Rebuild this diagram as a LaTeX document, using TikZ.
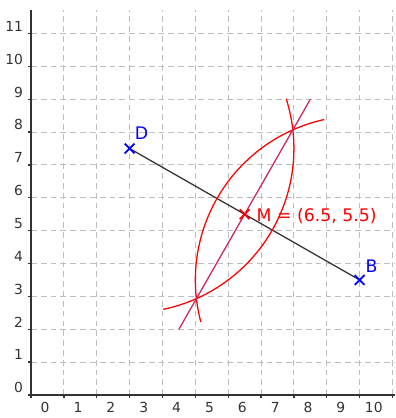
\documentclass[tikz,border=0pt]{standalone}
\usepackage{fontspec}
\setmainfont{DejaVu Sans}
\definecolor{bisect}{RGB}{204,40,100}
\definecolor{gridgray}{RGB}{190,190,190}
\tikzset{
  gridline/.style={gridgray, line width=0.9pt, dash pattern=on 5pt off 3.5pt},
  axisline/.style={black!80, line width=1.1pt},
  cross/.style={line width=1.6pt},
  arcline/.style={red, line width=1.1pt},
  ticklabel/.style={font=\fontsize{12}{14}\selectfont, black!80},
  ptlabel/.style={font=\fontsize{15}{17}\selectfont}
}
\begin{document}
\begin{tikzpicture}[x=1cm, y=1cm]
  \useasboundingbox (-0.944,-0.70) rectangle (11.08,12.02);
  % dashed grid
  \foreach \x in {1,...,11}
    \draw[gridline] (\x,0) -- (\x,11.72);
  \foreach \y in {1,...,11}
    \draw[gridline] (0,\y) -- (11.08,\y);
  % axes with ticks and numbers
  \draw[axisline] (-0.1,0) -- (11.08,0);
  \draw[axisline] (0,-0.1) -- (0,11.72);
  \foreach \x in {0,...,11}
    \draw[axisline] (\x,0) -- (\x,-0.1);
  \foreach \x in {0,...,10}
    \node[ticklabel] (xl\x) at (\x+0.43,-0.37) {\x};
  \foreach \y in {0,...,11} {
    \draw[axisline] (0,\y) -- (-0.1,\y);
    \node[ticklabel, anchor=east] (yl\y) at (-0.12,\y+0.22) {\y};
  }
  % the two points and the segment between them
  \coordinate (D) at (3,7.5);
  \coordinate (B) at (10,3.5);
  \draw[black!80, line width=1.1pt] (D) -- (B);
  % arcs of radius 5 round D and round B
  \draw[arcline] (D) ++(-78.2:5) arc[start angle=-78.2, end angle=17.6, radius=5];
  \draw[arcline] (B) ++(102.4:5) arc[start angle=102.4, end angle=194.8, radius=5];
  % perpendicular bisector through the crossings
  \coordinate (P1) at (4.5,2);
  \coordinate (P2) at (8.5,9);
  \draw[bisect, line width=1.1pt] (P1) -- (P2);
  % midpoint
  \coordinate (M) at (6.5,5.5);
  \draw[red, cross] (M) ++(-0.15,-0.15) -- ++(0.3,0.3) (M) ++(-0.15,0.15) -- ++(0.3,-0.3);
  \node[ptlabel, red, anchor=west] (Mlab) at (6.74,5.43) {M = (6.5, 5.5)};
  % end points
  \draw[blue, cross] (D) ++(-0.15,-0.15) -- ++(0.3,0.3) (D) ++(-0.15,0.15) -- ++(0.3,-0.3);
  \draw[blue, cross] (B) ++(-0.15,-0.15) -- ++(0.3,0.3) (B) ++(-0.15,0.15) -- ++(0.3,-0.3);
  \node[ptlabel, blue] (Dlab) at (3.36,7.97) {D};
  \node[ptlabel, blue] (Blab) at (10.36,3.93) {B};
\end{tikzpicture}
\end{document}
